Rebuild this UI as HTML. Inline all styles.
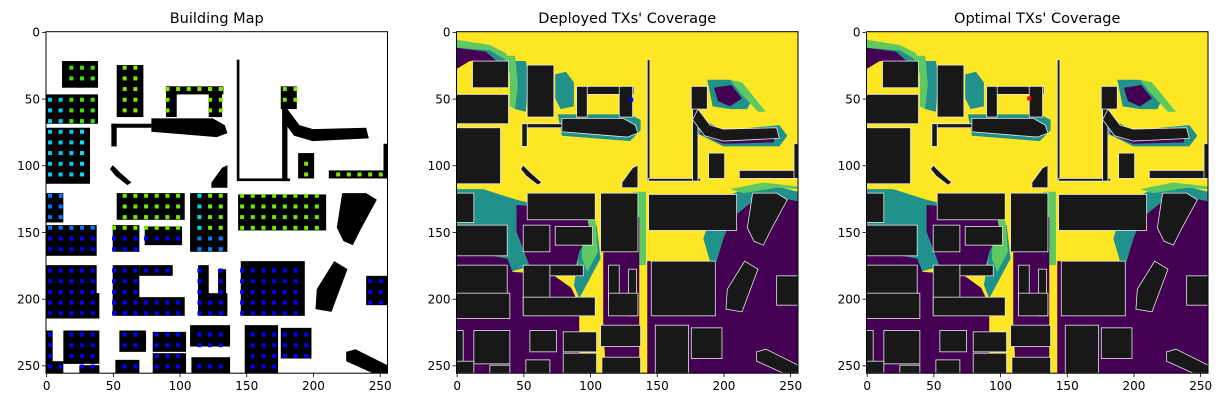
<!DOCTYPE html>
<html><head><meta charset="utf-8"><style>
body{margin:0;background:#fff;}
svg text{font-family:"DejaVu Sans","Liberation Sans",sans-serif;fill:#000;}
</style></head><body>
<svg id="fig" width="1224" height="407" viewBox="0 0 1224 407" xmlns="http://www.w3.org/2000/svg"></svg>
<script>
// building footprints [x, y, w, h] in map units (0..256)
const buildingRects = [
 [12,22,27,20],[53,25,20,39],[0,47,39,22],[90,41,43,6],[90,41,8,23],[122,41,10,23],
 [49,69,30,3],[49,69,4,17],[0,72,33,42],[143,21,2,91],[144,110,39,2],[177,44,4,68],
 [176,41,12,17],[189,91,12,19],[212,104,44,6],[253,84,3,26],[0,121,13,22],[53,121,51,20],
 [108,121,28,44],[144,122,66,27],[0,145,38,23],[50,145,20,20],[74,146,28,14],[0,175,38,25],
 [50,175,20,37],[70,175,25,8],[114,175,8,25],[129,178,6,35],[146,172,48,41],[240,183,16,22],
 [0,196,40,19],[50,199,54,14],[114,196,22,17],[0,224,5,32],[13,224,27,25],[55,224,20,16],
 [80,225,25,15],[108,220,30,16],[149,220,25,36],[176,222,23,23],[80,241,25,15],[109,244,29,12],
 [52,246,18,10],[0,247,13,9],[25,250,15,6]
];
// non-rectangular footprints
const buildingPolys = [
 "79,65 125,65 134,70 136,76 128,79 79,75",
 "181,58 190,70 200,73 240,72 242,80 200,82 186,78 177,66",
 "50,100 56,106 64,113 61,115 52,108 48,103",
 "124,113 132,102 136,100 136,117 124,117",
 "222,121 240,121 248,126 236,148 230,160 223,157 218,147",
 "203,193 216,172 226,178 214,210 202,208",
 "225,240 232,238 256,250 256,256 245,256 225,247"
];
// coverage regions (viridis levels)
const purpleRegions = [
 "0,12 22,15 30,22 10,22 0,28",
 "0,163 38,170 42,180 72,182 86,192 92,205 92,256 0,256",
 "45,130 80,132 98,140 100,150 92,165 88,182 70,182 55,176 45,150",
 "110,139 137,139 137,256 112,256 110,220",
 "143,172 195,172 200,155 206,140 222,127 240,124 256,127 256,256 143,256",
 "193,42 206,40 214,50 205,56 196,52",
 "184,72 200,79 238,79 238,83 200,84 183,77",
 "62,40 72,38 72,46 62,46"
];
const tealRegions = [
 "0,8 25,12 35,18 38,24 30,22 0,16",
 "40,22 52,22 54,35 52,60 44,58 42,40",
 "0,118 20,118 45,126 62,130 80,132 100,140 102,155 92,168 88,182 70,182 55,176 40,180 38,170 0,163",
 "200,125 215,118 240,116 256,120 256,127 240,124 222,127 206,140 200,155 195,172 190,172 185,155 190,140",
 "188,36 205,36 222,50 218,58 205,58 192,56",
 "181,64 200,74 242,70 248,78 242,86 200,86 180,76",
 "76,62 130,62 138,66 138,74 130,82 79,78",
 "74,32 82,30 88,38 88,56 78,58 74,50",
 "95,150 105,145 108,170 100,185 92,200 88,190"
];
const greenRegions = [
 "0,6 25,10 37,16 40,24 35,20 25,14 0,12",
 "36,18 44,18 46,40 44,58 40,56 40,32",
 "205,36 214,38 232,60 226,60 212,45",
 "205,118 230,113 256,116 256,118 240,117 215,121",
 "95,140 104,140 106,165 98,180 94,170",
 "132,120 142,120 142,175 137,175"
];
const xTicks = [0,50,100,150,200,250];
const yTicks = [0,50,100,150,200,250];
const titles = ["Building Map","Deployed TXs' Coverage","Optimal TXs' Coverage"];
const panelLeft = [46,456.5,866.5];
const markers = [null,[131,51,"#0000ff"],[122,50,"#ff0000"]];

const NS="http://www.w3.org/2000/svg";
const svg=document.getElementById('fig');
const TOP=31.7, SIZE=341.5, S=SIZE/256;
function el(t,a,p){const e=document.createElementNS(NS,t);for(const k in a)e.setAttribute(k,a[k]);(p||svg).appendChild(e);return e;}
function dotColor(x,y){
 if(x<36 && y<115) return (y>70||x<12)?(x<20?"#00c8ff":"#00e0ff"):"#39e600";
 if(y<118) return (x>40?"#7fe600":"#39e600");
 if(y<150 && x>50) return (x>106&&x<116)?"#00d8f0":"#66ee00";
 if(x<40 && y<150) return "#0077ff";
 if(x>112&&x<136&&y<165&&y>150) return "#0080ff";
 return "#0000ff";
}
panelLeft.forEach((x0,pi)=>{
 const g=el('g',{transform:`translate(${x0},${TOP}) scale(${S})`});
 
 
 const clipId='c'+pi;
 const cp=el('clipPath',{id:clipId},g); el('rect',{x:0,y:0,width:256,height:256},cp);
 const inner=el('g',{'clip-path':`url(#${clipId})`},g);
 if(pi===0){
  el('rect',{x:0,y:0,width:256,height:256,fill:'#fff'},inner);
 } else {
  el('rect',{x:0,y:0,width:256,height:256,fill:'#fde725'},inner);
  tealRegions.forEach(p=>{const r=el('polygon',{points:p,fill:'#21918c'},inner);
   
   });
  greenRegions.forEach(p=>{const r=el('polygon',{points:p,fill:'#5ec962'},inner);
   
   });
  purpleRegions.forEach(p=>{const r=el('polygon',{points:p,fill:'#440154'},inner);
   
   });
 }
 const fill=pi===0?'#000':'#181818';
 const stroke=pi===0?'none':'#e8e8e8';
 buildingRects.forEach(b=>{
  const r=el('rect',{x:b[0],y:b[1],width:b[2],height:b[3],fill:fill,stroke:stroke,'stroke-width':0.6},inner);
  
  
 });
 buildingPolys.forEach(p=>{
  const r=el('polygon',{points:p,fill:fill,stroke:stroke,'stroke-width':0.6},inner);
  
  
 });
 if(pi===0){
  buildingRects.forEach(b=>{
   if(b[2]<5||b[3]<5) return;
   for(let x=3;x<256;x+=8) for(let y=3;y<256;y+=8){
    if(x>=b[0]+1 && x<=b[0]+b[2]-1 && y>=b[1]+1 && y<=b[1]+b[3]-1){
     const d=el('rect',{x:x-1.5,y:y-1.5,width:3,height:3,fill:dotColor(x,y)},inner);
     
     
    }
   }
  });
 }
 if(markers[pi]){const m=markers[pi];
  const r=el('rect',{x:m[0]-1.5,y:m[1]-1.5,width:3,height:3,fill:m[2]},inner);
  
  
 }
 const fr=el('rect',{x:x0,y:TOP,width:SIZE,height:SIZE,fill:'none',stroke:'#000','stroke-width':1});
 
 
 const t=el('text',{x:x0+SIZE/2,y:23,'text-anchor':'middle','font-size':14.5});
 t.textContent=titles[pi];
 
 
 xTicks.forEach(v=>{const px=x0+(v+0.5)*S;
  el('line',{x1:px,x2:px,y1:TOP+SIZE,y2:TOP+SIZE+4,stroke:'#000','stroke-width':0.8});
  const l=el('text',{x:px,y:TOP+SIZE+17,'text-anchor':'middle','font-size':12});
  l.textContent=v;
  
  
 });
 yTicks.forEach(v=>{const py=TOP+(v+0.5)*S;
  el('line',{x1:x0-4,x2:x0,y1:py,y2:py,stroke:'#000','stroke-width':0.8});
  const l=el('text',{x:x0-6,y:py+4.3,'text-anchor':'end','font-size':12});
  l.textContent=v;
  
  
 });
});
</script>
</body></html>
